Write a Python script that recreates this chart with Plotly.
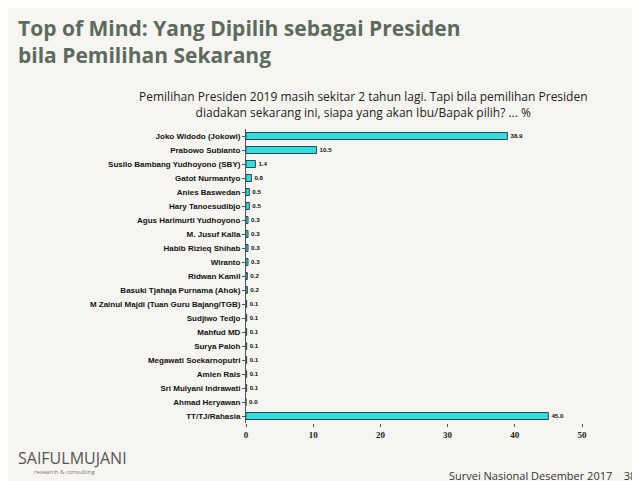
import plotly.graph_objects as go

names = ["Joko Widodo (Jokowi)", "Prabowo Subianto", "Susilo Bambang Yudhoyono (SBY)", "Gatot Nurmantyo",
         "Anies Baswedan", "Hary Tanoesudibjo", "Agus Harimurti Yudhoyono", "M. Jusuf Kalla",
         "Habib Rizieq Shihab", "Wiranto", "Ridwan Kamil", "Basuki Tjahaja Purnama (Ahok)",
         "M Zainul Majdi (Tuan Guru Bajang/TGB)", "Sudjiwo Tedjo", "Mahfud MD", "Surya Paloh",
         "Megawati Soekarnoputri", "Amien Rais", "Sri Mulyani Indrawati", "Ahmad Heryawan", "TT/TJ/Rahasia"]
values = [38.9, 10.5, 1.4, 0.8, 0.5, 0.5, 0.3, 0.3, 0.3, 0.3, 0.2, 0.2, 0.1, 0.1, 0.1, 0.1, 0.1, 0.1, 0.1, 0.0, 45.0]
ticks = [0, 10, 20, 30, 40, 50]

L, R, T, B, W, H = 238, 66, 121, 66, 640, 481
PW, PH = W - L - R, H - T - B

def px(x):
    return (x - L) / PW

def py(y):
    return (H - B - y) / PH

fig = go.Figure(go.Bar(
    x=values, y=names, orientation="h", width=0.5,
    marker=dict(color="#35dde0", line=dict(color="#1f4f55", width=1)),
    text=[f"<b>{v:.1f}</b>" for v in values], textposition="outside", cliponaxis=False,
    textfont=dict(family="Liberation Sans", size=8, color="#111"),
))
fig.update_layout(
    width=W, height=H, plot_bgcolor="rgba(0,0,0,0)", paper_bgcolor="#f7f5f2",
    margin=dict(l=L, r=R, t=T, b=B), showlegend=False,
    font=dict(family="Liberation Sans", size=8, color="#111"),
    xaxis=dict(range=[0, 50], tickvals=ticks, ticktext=[f"<b>{t}</b>" for t in ticks], showgrid=False,
               zeroline=False, tickfont=dict(family="Liberation Serif", size=9, color="#222"),
               ticks="outside", ticklen=3, tickcolor="#555", showline=False),
    yaxis=dict(autorange="reversed", showline=True, linecolor="#555", ticks="outside", ticklen=3,
               tickcolor="#555", tickvals=names, ticktext=[f"<b>{n}</b>" for n in names],
               tickfont=dict(size=8)),
)
common = dict(xref="paper", yref="paper", showarrow=False, yanchor="top")
fig.add_annotation(text="<b>Top of Mind: Yang Dipilih sebagai Presiden<br>bila Pemilihan Sekarang</b>",
    x=px(8), y=py(4), xanchor="left", align="left",
    font=dict(family="Open Sans", size=21, color="#5d6b5e"), **common)
fig.add_annotation(text="Pemilihan Presiden 2019 masih sekitar 2 tahun lagi. Tapi bila pemilihan Presiden<br>diadakan sekarang ini, siapa yang akan Ibu/Bapak pilih? ... %",
    x=px(355), y=py(78), xanchor="center", align="center",
    font=dict(family="Open Sans", size=12, color="#222"), **common)
fig.add_annotation(text="SAIFULMUJANI", x=px(8), y=py(437), xanchor="left",
    font=dict(family="Open Sans", size=16, color="#555"), **common)
fig.add_annotation(text="research & consulting", x=px(24), y=py(458), xanchor="left",
    font=dict(family="Open Sans", size=6, color="#777"), **common)
fig.add_annotation(text="Survei Nasional Desember 2017    38", x=px(630), y=py(458), xanchor="right",
    font=dict(family="Open Sans", size=11, color="#333"), **common)
fig.write_html("out.html")
